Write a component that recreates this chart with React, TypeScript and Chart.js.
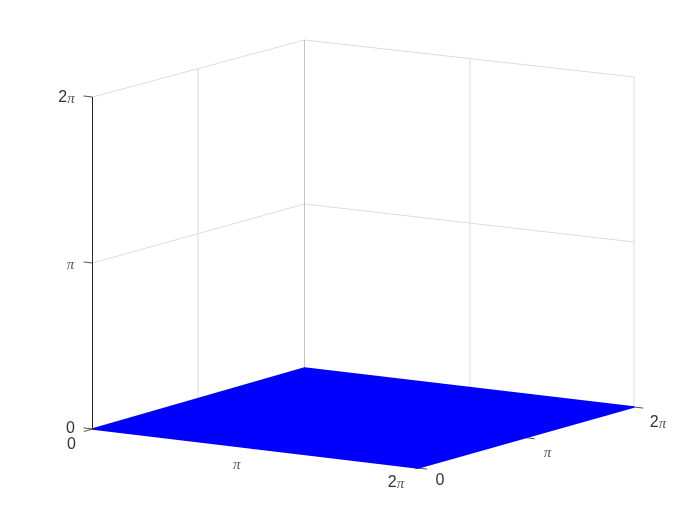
import React, { useEffect, useRef } from "react";
import { Chart, registerables } from "chart.js";

Chart.register(...registerables);

const PI = Math.PI;
// axis ticks, in data units, and their labels
const tickValues = [0, PI, 2 * PI];
const tickLabels = ["0", "π", "2π"];
// the plane z = 0, drawn as one filled sheet
const sheetA = [0, 2 * PI, 2 * PI, 0];
const sheetB = [0, 0, 2 * PI, 2 * PI];
const sheetZ = [0, 0, 0, 0];

// camera: where the corners of the box land on the page
const F00 = [92.5, 429], F10 = [418, 468], F11 = [634, 407], F01 = [304.5, 368];
const H00 = 332, H10 = 334, H11 = 330, H01 = 328;
const BACK_SHIFT = 1.2;

function homography() {
  const [x0, y0] = F00, [x1, y1] = F10, [x2, y2] = F11, [x3, y3] = F01;
  const dx1 = x1 - x2, dx2 = x3 - x2, sx = x0 - x1 + x2 - x3;
  const dy1 = y1 - y2, dy2 = y3 - y2, sy = y0 - y1 + y2 - y3;
  const det = dx1 * dy2 - dx2 * dy1;
  const g = (sx * dy2 - dx2 * sy) / det;
  const h = (dx1 * sy - sx * dy1) / det;
  return { a: x1 - x0 + g * x1, b: x3 - x0 + h * x3, c: x0, d: y1 - y0 + g * y1, e: y3 - y0 + h * y3, f: y0, g, h };
}
const M = homography();

function project(a: number, b: number, z: number) {
  const u = a / (2 * PI), v = b / (2 * PI);
  const w = M.g * u + M.h * v + 1;
  const x = (M.a * u + M.b * v + M.c) / w + BACK_SHIFT * 4 * u * (1 - u) * v;
  const y = (M.d * u + M.e * v + M.f) / w;
  const H = H00 * (1 - u) * (1 - v) + H10 * u * (1 - v) + H11 * u * v + H01 * (1 - u) * v;
  return { x, y: y - (z / (2 * PI)) * H };
}

const TOP = tickValues[2];
const ZERO = tickValues[0];
const TICK_A = 0.175; // tick length along the a axis
const TICK_B = [0.26, 0.07, 0.08]; // visible tick length along the b axis

function seg(points: number[][], color: string, width: number, order: number) {
  return {
    data: points.map(([a, b, z]) => project(a, b, z)),
    showLine: true,
    borderColor: color,
    borderWidth: width,
    pointRadius: 0,
    fill: false,
    order,
  };
}

const GRID = "#dcdcdc";
const AXIS = "#262626";

function buildDatasets() {
  const sets: any[] = [];
  // z grid rings on the two back walls
  tickValues.slice(1).forEach((z) => {
    sets.push(seg([[ZERO, ZERO, z], [ZERO, TOP, z], [TOP, TOP, z]], GRID, 1, 5));
  });
  // vertical grid lines on the walls
  tickValues.forEach((b) => {
    if (b > ZERO) sets.push(seg([[ZERO, b, ZERO], [ZERO, b, TOP]], GRID, 1, 5));
  });
  tickValues.slice(1).forEach((a) => {
    sets.push(seg([[a, TOP, ZERO], [a, TOP, TOP]], GRID, 1, 5));
  });
  sets.push(seg([[ZERO, TOP, ZERO], [ZERO, TOP, TOP]], "#c4c4c4", 1, 4));
  // sheet
  sets.push({
    data: sheetA.concat(sheetA[0]).map((a, i) => {
      const k = i % sheetA.length;
      return project(a, sheetB[k], sheetZ[k]);
    }),
    showLine: true,
    borderColor: "#0000ff",
    backgroundColor: "#0000ff",
    borderWidth: 1.5,
    borderJoinStyle: "round",
    pointRadius: 0,
    fill: "shape",
    tension: 0,
    order: 2,
  });
  // axis line and ticks
  sets.push(seg([[ZERO, ZERO, ZERO], [ZERO, ZERO, TOP]], AXIS, 1, 1));
  tickValues.forEach((z) => sets.push(seg([[ZERO, ZERO, z], [-TICK_A, ZERO, z]], AXIS, 0.8, 1)));
  tickValues.forEach((a, i) => sets.push(seg([[a, ZERO, ZERO], [a, -TICK_B[i], ZERO]], AXIS, 0.8, 3)));
  tickValues.forEach((b) => sets.push(seg([[TOP, b, ZERO], [TOP + TICK_A, b, ZERO]], AXIS, 0.8, 3)));
  return sets;
}

const labelOffsetsZ = [[-22, 0], [-22, 1], [-26, 1]];
const labelOffsetsA = [[-21, 15.5], [-18, 16], [-22, 15]];
const labelOffsetsB = [[22, 13], [22, 14], [24, 16]];

const labelPlugin = {
  id: "tickText",
  afterDatasetsDraw(chart: any) {
    const { ctx, scales } = chart;
    const draw = (text: string, px: number, py: number) => {
      const digit = text.replace("π", "");
      const hasPi = text.includes("π");
      ctx.save();
      ctx.textBaseline = "middle";
      ctx.textAlign = "left";
      ctx.fillStyle = "#333333";
      const digitFont = "16px 'Liberation Sans'";
      const piFont = "italic 15px 'Liberation Serif'";
      ctx.font = digitFont;
      const dw = ctx.measureText(digit).width;
      ctx.font = piFont;
      const pw = hasPi ? ctx.measureText("π").width : 0;
      let x = px - (dw + pw) / 2;
      ctx.font = digitFont;
      if (digit) ctx.fillText(digit, x, py);
      x += dw;
      if (hasPi) {
        ctx.font = piFont;
        ctx.fillStyle = "#555555";
        ctx.fillText("π", x, py + 1);
      }
      ctx.restore();
    };
    tickValues.forEach((t, i) => {
      const z = project(ZERO, ZERO, t);
      draw(tickLabels[i], scales.x.getPixelForValue(z.x) + labelOffsetsZ[i][0], scales.y.getPixelForValue(z.y) + labelOffsetsZ[i][1]);
      const a = project(t, ZERO, ZERO);
      draw(tickLabels[i], scales.x.getPixelForValue(a.x) + labelOffsetsA[i][0], scales.y.getPixelForValue(a.y) + labelOffsetsA[i][1]);
      const b = project(TOP, t, ZERO);
      draw(tickLabels[i], scales.x.getPixelForValue(b.x) + labelOffsetsB[i][0], scales.y.getPixelForValue(b.y) + labelOffsetsB[i][1]);
    });
  },
};

export default function App() {
  const ref = useRef<HTMLCanvasElement>(null);
  useEffect(() => {
    const chart = new Chart(ref.current as HTMLCanvasElement, {
      type: "scatter",
      data: { datasets: buildDatasets() },
      options: {
        animation: false,
        responsive: false,
        layout: { padding: 0 },
        plugins: { legend: { display: false }, tooltip: { enabled: false } },
        scales: {
          x: { type: "linear", min: 0, max: 700, display: false },
          y: { type: "linear", min: 0, max: 525, reverse: true, display: false },
        },
      },
      plugins: [labelPlugin],
    } as any);
    return () => chart.destroy();
  }, []);
  return (
    <canvas
      ref={ref}
      width={700}
      height={525}
      style={{ position: "fixed", left: 0, top: 0, width: 700, height: 525, background: "#fff" }}
    />
  );
}
